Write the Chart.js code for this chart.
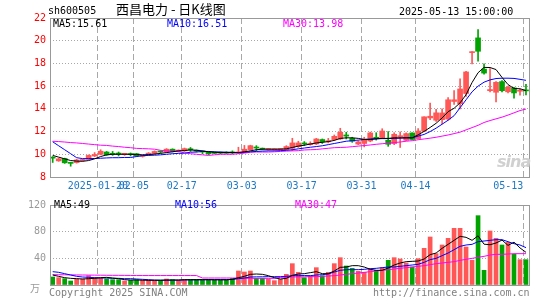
<!DOCTYPE html>
<html><head><meta charset="utf-8">
<script src="https://cdn.jsdelivr.net/npm/chart.js@4.4.1/dist/chart.umd.min.js"></script>
<style>
html,body{margin:0;padding:0;background:#fff;}
#wrap{position:relative;width:545px;height:300px;overflow:hidden;font-family:"DejaVu Sans Mono",monospace;}
canvas{position:absolute;left:0;}
.t{position:absolute;white-space:nowrap;font-size:10px;line-height:10px;}
</style></head><body>
<div id="wrap">
<canvas id="pc" width="545" height="195" style="top:0"></canvas>
<canvas id="vc" width="545" height="105" style="top:195px"></canvas>
<div class="t" style="left:48px;top:6px;color:#000">sh600505</div>
<div class="t" style="left:116px;top:2px;font-size:13px;line-height:14px;font-family:'Noto Sans CJK SC',sans-serif;color:#000">西昌电力 - 日K线图</div>
<div class="t" style="left:399px;top:7px;color:#000">2025-05-13 15:00:00</div>
<div class="t" style="left:53px;top:19px;color:#000">MA5:15.61</div>
<div class="t" style="left:167px;top:19px;color:#0000ff">MA10:16.51</div>
<div class="t" style="left:283px;top:19px;color:#ff00ff">MA30:13.98</div>
<div class="t" style="left:54px;top:200px;color:#000">MA5:49</div>
<div class="t" style="left:175px;top:200px;color:#0000ff">MA10:56</div>
<div class="t" style="left:295px;top:200px;color:#ff00ff">MA30:47</div>
<div class="t" style="left:30px;top:283px;color:#999;font-family:'Noto Sans CJK SC',sans-serif;">万</div>
<div class="t" style="left:49px;top:288px;color:#808080">Copyright 2025 SINA.COM</div>
<div class="t" style="left:373px;top:288px;color:#808080">http://finance.sina.com.cn</div>
<div class="t" style="left:497px;top:153px;font-size:16px;line-height:18px;font-style:italic;font-weight:bold;color:#d0d0d0;font-family:'DejaVu Sans',sans-serif;letter-spacing:-1px">sina</div>
</div>
<script>
// ---- data ----
const dateIdx    = [8, 14, 22, 32, 42, 52, 61, 79];
const dateLabels = ['2025-01-20', '02-05', '02-17', '03-03', '03-17', '03-31', '04-14', '05-13'];
const openP  = [9.72,9.42,9.63,9.28,9.27,9.45,9.55,9.85,10.0,10.2, 10.05,10.08,10.0,10.02,10.05,9.82,9.95,10.08,10.25,10.2, 10.45,10.28,10.3,10.45,10.32,10.25,10.18,10.12,10.15,10.15, 10.15,10.12,10.2,10.41,10.6,10.5,10.42,10.4,10.42,10.41, 10.53,10.68,11.0,10.85,10.91,11.3,11.1,11.29,11.35,11.7, 11.4,10.9,10.95,11.17,11.5,11.47,11.23,10.94,11.55,11.23, 11.88,11.38,12.05,13.2,13.0,13.05,13.1,14.65,14.45,15.35, 18.95,20.25,17.5,15.6,15.46,16.4,15.5,15.84,15.55,15.65];
const highP  = [9.8,9.66,9.66,9.3,9.56,9.55,9.95,10.15,10.4,10.25, 10.25,10.2,10.05,10.12,10.08,9.95,10.15,10.3,10.32,10.5, 10.48,10.38,10.55,10.6,10.38,10.3,10.2,10.2,10.2,10.22, 10.3,10.62,10.78,10.8,10.76,10.55,10.5,10.48,10.5,10.76, 11.41,11.15,11.12,11.1,11.4,11.35,11.4,11.7,12.29,11.94, 11.5,11.2,11.5,11.95,11.9,12.25,12.0,11.9,11.97,11.9, 11.9,12.26,13.3,14.5,13.95,14.0,15.0,15.6,16.65,17.3, 19.05,20.98,17.96,17.55,16.4,16.5,16.0,15.9,15.75,16.17];
const lowP   = [9.28,9.38,9.2,8.95,9.22,9.4,9.52,9.8,9.95,9.9, 9.9,9.85,9.9,9.85,9.8,9.75,9.9,10.0,10.1,10.15, 10.2,10.2,10.25,10.25,10.2,10.05,9.95,10.05,10.05,10.08, 10.05,10.05,10.15,10.35,10.3,10.4,10.35,10.35,10.38,10.38, 10.32,10.6,10.76,10.8,10.85,10.95,11.0,11.2,11.3,11.35, 11.05,10.85,10.65,11.1,11.25,11.4,10.7,10.85,10.6,11.2, 11.3,11.35,12.0,13.05,12.9,12.67,13.0,14.4,14.0,15.1, 17.95,18.19,17.05,15.5,14.6,15.5,15.4,14.95,15.2,15.23];
const closeP = [9.66,9.6,9.25,9.2,9.5,9.52,9.9,9.98,10.27,9.95, 10.0,10.02,10.0,9.97,9.85,9.92,10.1,10.25,10.2,10.45, 10.25,10.35,10.5,10.4,10.28,10.2,10.05,10.08,10.1,10.1, 10.12,10.2,10.45,10.76,10.55,10.45,10.42,10.43,10.45,10.68, 11.0,11.0,10.91,10.95,11.35,11.1,11.2,11.58,11.94,11.6, 11.15,11.1,11.35,11.88,11.38,12.05,10.88,11.76,11.62,11.82, 11.3,12.05,13.3,13.35,13.65,13.64,14.8,14.8,15.75,17.25, 19.02,19.07,17.15,15.7,16.34,15.6,15.9,15.4,15.6,15.58];
const ma5  = [9.9,9.75,9.6,9.45,9.4,9.38,9.45,9.6,9.8,9.95, 10.0,10.0,10.0,10.0,9.98,9.95,9.97,10.02,10.08,10.15, 10.22,10.3,10.33,10.38,10.35,10.3,10.22,10.18,10.15,10.15, 10.15,10.15,10.22,10.3,10.4,10.45,10.45,10.45,10.45,10.48, 10.6,10.72,10.8,10.9,11.0,11.05,11.12,11.22,11.4,11.45, 11.45,11.4,11.3,11.3,11.35,11.4,11.4,11.45,11.45,11.45, 11.45,11.71,12.02,12.36,12.73,13.2,13.75,14.05,14.53,15.25, 16.32,17.18,17.65,17.64,17.46,16.77,16.14,15.79,15.77,15.61];
const ma10 = [11.1,10.75,10.4,10.05,9.7,9.62,9.62,9.63,9.65,9.68, 9.7,9.7,9.72,9.72,9.8,9.88,9.9,9.92,9.95,10.0, 10.05,10.08,10.1,10.18,10.2,10.25,10.25,10.22,10.2,10.18, 10.16,10.15,10.18,10.22,10.25,10.28,10.3,10.3,10.32,10.35, 10.4,10.48,10.55,10.62,10.68,10.75,10.85,10.95,11.05,11.15, 11.2,11.25,11.3,11.35,11.38,11.38,11.38,11.4,11.42,11.45, 11.45,11.6,11.75,12.0,12.3,12.65,13.0,13.4,14.1,14.8, 15.5,16.0,16.35,16.55,16.67,16.7,16.7,16.68,16.6,16.51];
const ma30 = [11.15,11.12,11.08,11.03,11.0,10.95,10.9,10.85,10.8,10.78, 10.72,10.68,10.62,10.58,10.52,10.5,10.48,10.45,10.35,10.3, 10.3,10.25,10.12,10.05,10.0,9.95,9.9,9.95,10.0,10.0, 10.0,10.05,10.1,10.18,10.2,10.2,10.2,10.22,10.25,10.28, 10.3,10.32,10.38,10.4,10.42,10.48,10.53,10.58,10.6,10.62, 10.67,10.72,10.77,10.82,10.88,10.93,10.98,11.03,11.08,11.15, 11.2,11.28,11.35,11.42,11.5,11.6,11.7,11.82,11.95,12.15, 12.35,12.55,12.8,12.97,13.12,13.27,13.45,13.65,13.85,13.98];
const vol   = [12,11,9.5,6,9,9,14,11,10,9, 8,8,6,7,8,7,7,6.5,6.5,9, 8,7,8,8,8,8,8,7.5,7.5,7.5, 10,21,19.5,21,10,10,9,6.5,8.5,16, 32,19,11,13.5,26,14,19,32,41,28.5, 25,20.5,19,24,22,26,37,41,39,33, 27,39.5,55,72,47,60,70,85,85,57, 37,104,22,81,70,60,64,46,38,38];
const vma5  = [15,13,11,10,9.5,9,9.5,10,11,11.5, 10.5,9.5,8,7.5,7.5,7.2,7,7,7,7.5, 7.5,7.5,8,8,8,8,8,7.8,7.8,7.8, 8.5,11,13,16,16.5,16,14,11,9,10, 14.5,16.5,17,18.5,20,17,17,21,26.5,27, 29,29,27,23.5,22,22,25.5,30,33,35, 35.5,36,39,45.5,48,55,61,67,73,71.5, 67,73.8,61.2,60.4,63,67.4,59.4,64.2,55.6,49];
const vma10 = [20,19,17,15,13,12,11.5,11,10.5,10.5, 10,10,9.5,9.5,9,8.5,8,7.5,7.3,7.2, 7.2,7.3,7.5,7.6,7.7,7.8,7.9,8,8,8, 8.2,9.5,10.5,12,12.2,12.3,12.5,12.5,12.5,13, 14,14,14.2,14,15,15.5,16.5,19.5,22,23, 23,23,23.5,24.5,25,26,27,27,28,29, 30,31,34,38,40,44,48,53,58,60, 61,65,66,67,68,68,65,62,60,56];
const vma30 = [15.5,15.4,15.3,15.2,15.1,15,14.9,14.8,14.7,14.6, 14.5,14.5,14.4,14.3,14.2,14.2,14.2,14.2,14.2,14.2, 14.2,14.2,14.2,14.2,14.2,10.5,10.5,10.5,10.5,10.5, 10.5,10.5,10,10,10,10,10,10,11.5,11.8, 12,12.2,12.3,12.5,12.5,13,13.5,14,15,16, 17,18,19,20,21,22,23,24,25,26, 27,28,29,30.5,32,33,34,35,37,38.5, 40,41.5,43,45,46,46,46.5,47,47,47];
const priceTicks = [8, 10, 12, 14, 16, 18, 20, 22];
const volTicks = [0, 40, 80, 120];

// ---- styles ----
const UP = '#ff5656', DOWN = '#00a300';
const GRID = '#a8a8a8', FRAME = '#999';
const X_MIN = -0.45, X_MAX = 79.67, LINE_SHIFT = -0.45;
const isUp = i => closeP[i] >= openP[i];
const colorAt = i => isUp(i) ? UP : DOWN;
const xy = arr => arr.map((v, i) => ({x: i, y: v}));

const frame = {
  id: 'frame',
  afterDraw(chart) {
    const {ctx, chartArea: a} = chart;
    ctx.save();
    ctx.strokeStyle = FRAME; ctx.lineWidth = 1;
    ctx.strokeRect(Math.round(a.left) + 0.5, Math.round(a.top) + 0.5, Math.round(a.right - a.left) - 1, Math.round(a.bottom - a.top));
    ctx.restore();
  }
};

function xScale(showLabels, height) {
  return {
    type: 'linear', min: X_MIN, max: X_MAX, bounds: 'data', offset: false,
    afterBuildTicks: s => { s.ticks = dateIdx.map(i => ({value: i + LINE_SHIFT})); },
    afterFit: s => { s.height = height; s.paddingLeft = 0; s.paddingRight = 0; },
    grid: {color: GRID, lineWidth: 1, drawTicks: false, offset: false},
    border: {display: false, dash: [6, 3]},
    ticks: {
      display: showLabels, autoSkip: false, maxRotation: 0, padding: 3,
      color: '#1c79c6', font: {family: 'DejaVu Sans Mono', size: 10},
      // the last label sits left of its line (kept inside the plot), as in the original
      callback: (v, idx) => idx === dateLabels.length - 1 ? dateLabels[idx] + '     ' : dateLabels[idx]
    }
  };
}

Chart.defaults.animation = false;

new Chart(document.getElementById('pc'), {
  type: 'bar',
  data: {
    datasets: [
      {type: 'line', data: xy(ma5), borderColor: '#000', borderWidth: 1, pointRadius: 0, order: 0},
      {type: 'line', data: xy(ma10), borderColor: '#0000ff', borderWidth: 1, pointRadius: 0, order: 0},
      {type: 'line', data: xy(ma30), borderColor: '#ff00ff', borderWidth: 1, pointRadius: 0, order: 0},
      {data: openP.map((o, i) => ({x: i, y: [o, closeP[i]]})), backgroundColor: openP.map((o, i) => colorAt(i)),
       barThickness: 5, minBarLength: 1, borderWidth: 0, order: 1},
      {data: lowP.map((l, i) => ({x: i, y: [l, highP[i]]})), backgroundColor: lowP.map((l, i) => colorAt(i)),
       barThickness: 1, minBarLength: 1, borderWidth: 0, order: 2}
    ]
  },
  options: {
    responsive: false, devicePixelRatio: 1, animation: false,
    layout: {padding: {left: 0, right: 15, top: 18, bottom: 0}},
    plugins: {legend: {display: false}, tooltip: {enabled: false}},
    datasets: {bar: {grouped: false}},
    scales: {
      x: xScale(true, 18),
      y: {
        min: 8, max: 22,
        afterBuildTicks: s => { s.ticks = priceTicks.map(v => ({value: v})); },
        afterFit: s => { s.width = 50; },
        grid: {drawTicks: false, color: c => (c.tick && (c.tick.value === 8 || c.tick.value === 22)) ? 'rgba(0,0,0,0)' : GRID},
        border: {display: false, dash: [1, 2]},
        ticks: {padding: 4, color: '#ff0000', font: {family: 'DejaVu Sans Mono', size: 10}}
      }
    }
  },
  plugins: [frame]
});

new Chart(document.getElementById('vc'), {
  type: 'bar',
  data: {
    datasets: [
      {type: 'line', data: xy(vma5), borderColor: '#000', borderWidth: 1, pointRadius: 0, order: 0},
      {type: 'line', data: xy(vma10), borderColor: '#0000ff', borderWidth: 1, pointRadius: 0, order: 0},
      {type: 'line', data: xy(vma30), borderColor: '#ff00ff', borderWidth: 1, pointRadius: 0, order: 0},
      {data: xy(vol), backgroundColor: vol.map((v, i) => colorAt(i)), barThickness: 4, borderWidth: 0, order: 1}
    ]
  },
  options: {
    responsive: false, devicePixelRatio: 1, animation: false,
    layout: {padding: {left: 0, right: 15, top: 6, bottom: 0}},
    plugins: {legend: {display: false}, tooltip: {enabled: false}},
    datasets: {bar: {grouped: false}},
    scales: {
      x: xScale(false, 15),
      y: {
        min: 0, max: 120,
        afterBuildTicks: s => { s.ticks = volTicks.map(v => ({value: v})); },
        afterFit: s => { s.width = 50; },
        grid: {drawTicks: false, color: c => (c.tick && (c.tick.value === 0 || c.tick.value === 120)) ? 'rgba(0,0,0,0)' : GRID},
        border: {display: false, dash: [1, 2]},
        ticks: {padding: 4, color: '#999', font: {family: 'DejaVu Sans Mono', size: 10},
                callback: v => v === 0 ? '' : String(v)}
      }
    }
  },
  plugins: [frame]
});
</script>
</body></html>
